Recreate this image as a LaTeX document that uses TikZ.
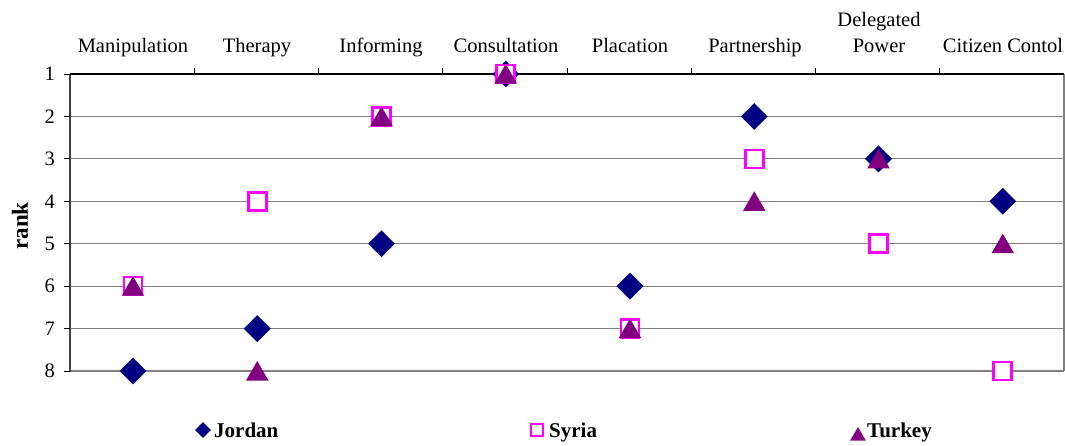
\documentclass[tikz,border=0pt]{standalone}
\usepackage{fontspec}
\setmainfont{Liberation Serif}
\usetikzlibrary{shapes.geometric}
\definecolor{jordancol}{HTML}{000080}
\definecolor{syriacol}{HTML}{FF00FF}
\definecolor{turkeycol}{HTML}{800080}
\definecolor{gridcol}{HTML}{808080}
\begin{document}
\begin{tikzpicture}[x=1pt,y=-1pt,
  lbl/.style={font=\fontsize{20.5}{22}\selectfont, inner sep=0pt},
  leg/.style={font=\fontsize{21}{23}\selectfont\bfseries, inner sep=0pt, anchor=base west},
  jmark/.style={diamond, fill=jordancol, draw=none, inner sep=0pt, minimum width=27pt, minimum height=27pt},
  smark/.style={rectangle, draw=syriacol, line width=2.6pt, fill=white, inner sep=0pt, minimum size=18pt},
  tmark/.style={regular polygon, regular polygon sides=3, fill=turkeycol, draw=none, inner sep=0pt, minimum size=26pt, yshift=-3pt},
  gridline/.style={draw=gridcol, line width=1.2pt},
]
\useasboundingbox (0,0) rectangle (1065,445);
\fill[white] (0,0) rectangle (1065,445);

% plot frame: x from 70 to 1064, rank 1 at y=74, rank 8 at y=371
\foreach \r in {2,...,7}
  \draw[gridline] (70,{74+(\r-1)*42.43}) -- (1064,{74+(\r-1)*42.43});
\draw[gridcol, line width=1.2pt] (1064,74) -- (1064,371);
\draw[gridcol, line width=2.6pt] (70,371) -- (1064,371);
\draw[black!75, line width=2.6pt] (70,74) -- (70,372);
\draw[black, line width=1.6pt] (70,74) -- (1064,74);

% ticks and rank labels
\foreach \r in {1,...,8} {
  \draw[black, line width=1pt] (64,{74+(\r-1)*42.43}) -- (70,{74+(\r-1)*42.43});
  \node[lbl, anchor=east] (rk\r) at (55,{74+(\r-1)*42.43}) {\r};
}
\foreach \k in {1,...,7}
  \draw[black, line width=1pt] ({70+\k*124.25},68) -- ({70+\k*124.25},74);

\node[font=\fontsize{23}{25}\selectfont\bfseries, rotate=90, inner sep=0pt] (axis) at (20,226) {rank};

% category labels
\node[lbl, anchor=base] (c1) at (133,52) {Manipulation};
\node[lbl, anchor=base] (c2) at (257,52) {Therapy};
\node[lbl, anchor=base] (c3) at (381,52) {Informing};
\node[lbl, anchor=base] (c4) at (506,52) {Consultation};
\node[lbl, anchor=base] (c5) at (630,52) {Placation};
\node[lbl, anchor=base] (c6) at (755,52) {Partnership};
\node[lbl, anchor=base] (c7a) at (879,26) {Delegated};
\node[lbl, anchor=base] (c7) at (879,52) {Power};
\node[lbl, anchor=base] (c8) at (1003,52) {Citizen Contol};

% data: Jordan, Syria, Turkey
\foreach \c/\j in {1/8,2/7,3/5,4/1,5/6,6/2,7/3,8/4}
  \node[jmark] (j\c) at ({133+(\c-1)*124.25},{74+(\j-1)*42.43}) {};
\foreach \c/\s in {1/6,2/4,3/2,4/1,5/7,6/3,7/5,8/8}
  \node[smark] (s\c) at ({133+(\c-1)*124.25},{74+(\s-1)*42.43}) {};
\foreach \c/\t in {1/6,2/8,3/2,4/1,5/7,6/4,7/3,8/5}
  \node[tmark] (t\c) at ({133+(\c-1)*124.25},{74+(\t-1)*42.43}) {};

% legend
\node[jmark, minimum width=16pt, minimum height=16pt] (lj) at (203,430) {};
\node[leg] (ljt) at (214,437) {Jordan};
\node[smark, minimum size=12pt, line width=2.2pt] (ls) at (537,430) {};
\node[leg] (lst) at (549,437) {Syria};
\node[tmark, minimum size=18pt, yshift=0pt] (lt) at (858,433) {};
\node[leg] (ltt) at (867,437) {Turkey};
\end{tikzpicture}
\end{document}
